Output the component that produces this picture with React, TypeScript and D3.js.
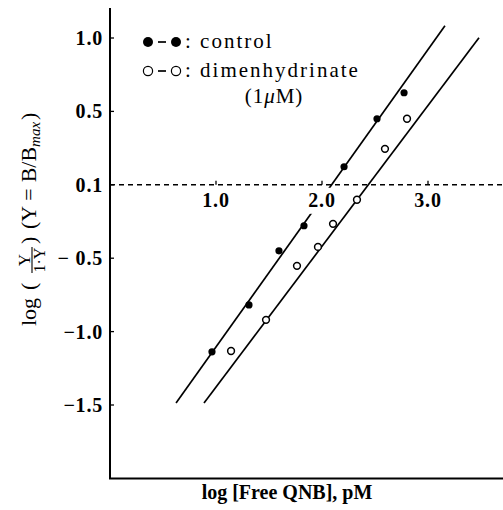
import React from "react";
import * as d3 from "d3";

const W = 503;
const H = 510;

// tick values and their printed labels
const X_TICKS = [1, 2, 3];
const X_TICK_LABELS = ["1.0", "2.0", "3.0"];
const Y_TICKS = [1, 0.5, 0, -0.5, -1, -1.5];
const Y_TICK_LABELS = ["1.0", "0.5", "0.1", "\u2212 0.5", "\u22121.0", "\u22121.5"];

// control (filled circles)
const CONTROL_X = [0.962, 1.311, 1.594, 1.83, 2.208, 2.519, 2.774];
const CONTROL_Y = [-1.138, -0.818, -0.45, -0.279, 0.123, 0.45, 0.627];
// dimenhydrinate 1 µM (open circles)
const DIMEN_X = [1.142, 1.472, 1.764, 1.962, 2.104, 2.33, 2.594, 2.802];
const DIMEN_Y = [-1.132, -0.92, -0.552, -0.423, -0.266, -0.102, 0.245, 0.45];

// fitted regression lines (end points)
const CONTROL_FIT_X = [0.623, 3.16];
const CONTROL_FIT_Y = [-1.486, 1.084];
const DIMEN_FIT_X = [0.887, 3.481];
const DIMEN_FIT_Y = [-1.486, 1.002];

const FONT = "Liberation Serif";

export default function App() {
  const x = d3.scaleLinear().domain([0, 3]).range([110, 428]);
  const y = d3.scaleLinear().domain([-1.5, 1]).range([405, 38]);
  const xMin = x(0);
  const yTop = y(1.205);
  const yBottom = y(-2);
  const y0 = y(0);

  const line = d3
    .line<[number, number]>()
    .x((d) => x(d[0]))
    .y((d) => y(d[1]));

  const controlFit: [number, number][] = CONTROL_FIT_X.map((v, i) => [v, CONTROL_FIT_Y[i]]);
  const dimenFit: [number, number][] = DIMEN_FIT_X.map((v, i) => [v, DIMEN_FIT_Y[i]]);

  return (
    <svg
      width={W}
      height={H}
      style={{ position: "absolute", left: 0, top: 0, background: "#fff" }}
      fontFamily={FONT}
    >
      <rect x={0} y={0} width={W} height={H} fill="#fff" />

      {/* fitted lines */}
      <path d={line(controlFit) || ""} stroke="#000" strokeWidth={1.7} fill="none" />
      <path d={line(dimenFit) || ""} stroke="#000" strokeWidth={1.7} fill="none" />

      {/* dashed baseline at y = 0 */}
      <line x1={xMin} x2={W} y1={y0} y2={y0} stroke="#000" strokeWidth={1.5} strokeDasharray="5,4" />

      {/* x ticks on the dashed line */}
      {X_TICKS.map((t, i) => (
        <g key={"xt" + i}>
          <line x1={x(t)} x2={x(t)} y1={y0} y2={y0 - 4} stroke="#000" strokeWidth={1.3} />
          <rect x={x(t) - 16} y={y0 + 3} width={32} height={26} fill="#fff" />
          <text
            x={x(t)}
            y={y0 + 22}
            fontSize={20}
            fontWeight="bold"
            letterSpacing={0.8}
            textAnchor="middle"
            fill="#000"
          >
            {X_TICK_LABELS[i]}
          </text>
        </g>
      ))}

      {/* axes */}
      <line x1={xMin} x2={xMin} y1={yTop} y2={yBottom} stroke="#000" strokeWidth={2} />
      <line x1={xMin - 1} x2={W} y1={yBottom} y2={yBottom} stroke="#000" strokeWidth={2} />

      {/* y ticks and labels */}
      {Y_TICKS.map((t, i) => (
        <g key={"yt" + i}>
          <line x1={xMin} x2={xMin + 4} y1={y(t)} y2={y(t)} stroke="#000" strokeWidth={1.3} />
          <text
            x={103}
            y={y(t) + 7}
            fontSize={20}
            fontWeight="bold"
            letterSpacing={0.8}
            textAnchor="end"
            fill="#000"
          >
            {Y_TICK_LABELS[i]}
          </text>
        </g>
      ))}

      {/* data points */}
      {CONTROL_X.map((v, i) => (
        <circle key={"c" + i} cx={x(v)} cy={y(CONTROL_Y[i])} r={3.6} fill="#000" />
      ))}
      {DIMEN_X.map((v, i) => (
        <circle
          key={"d" + i}
          cx={x(v)}
          cy={y(DIMEN_Y[i])}
          r={3.4}
          fill="#fff"
          stroke="#000"
          strokeWidth={1.5}
        />
      ))}

      {/* legend */}
      <g>
        <circle cx={148} cy={42} r={5} fill="#000" />
        <line x1={158} x2={166} y1={42} y2={42} stroke="#000" strokeWidth={1.7} />
        <circle cx={176} cy={42} r={5} fill="#000" />
        <text x={185} y={48} fontSize={21} letterSpacing={2} fill="#000">
          : control
        </text>
        <circle cx={148} cy={71} r={4.6} fill="#fff" stroke="#000" strokeWidth={1.2} />
        <line x1={158} x2={166} y1={71} y2={71} stroke="#000" strokeWidth={1.7} />
        <circle cx={176} cy={71} r={4.6} fill="#fff" stroke="#000" strokeWidth={1.2} />
        <text x={185} y={77} fontSize={21} letterSpacing={2} fill="#000">
          : dimenhydrinate
        </text>
        <text x={274} y={103} fontSize={21} letterSpacing={1} textAnchor="middle" fill="#000">
          (1<tspan fontStyle="italic">{"\u03bc"}</tspan>M)
        </text>
      </g>

      {/* x axis title */}
      <text x={287} y={499} fontSize={20} fontWeight="bold" textAnchor="middle" fill="#000">
        log [Free QNB], pM
      </text>

      {/* y axis title (rotated) */}
      <g transform="translate(36,326) rotate(-90)">
        <text x={0} y={0} fontSize={22} fill="#000">
          log
        </text>
        <text x={36} y={0} fontSize={22} fill="#000">
          (
        </text>
        <text x={66} y={-6} fontSize={17} textAnchor="middle" fill="#000">
          Y
        </text>
        <line x1={53} x2={79} y1={-4} y2={-4} stroke="#000" strokeWidth={1.1} />
        <text x={66} y={9} fontSize={16} textAnchor="middle" fill="#000">
          1·Y
        </text>
        <text x={82} y={0} fontSize={22} fill="#000">
          )
        </text>
        <text x={97} y={0} fontSize={22} fill="#000">
          (Y
          <tspan dx={5}>=</tspan>
          <tspan dx={6}>B/B</tspan>
          <tspan fontSize={15} fontStyle="italic" dy={4}>
            max
          </tspan>
          <tspan dy={-4} dx={2}>)</tspan>
        </text>
      </g>
    </svg>
  );
}
